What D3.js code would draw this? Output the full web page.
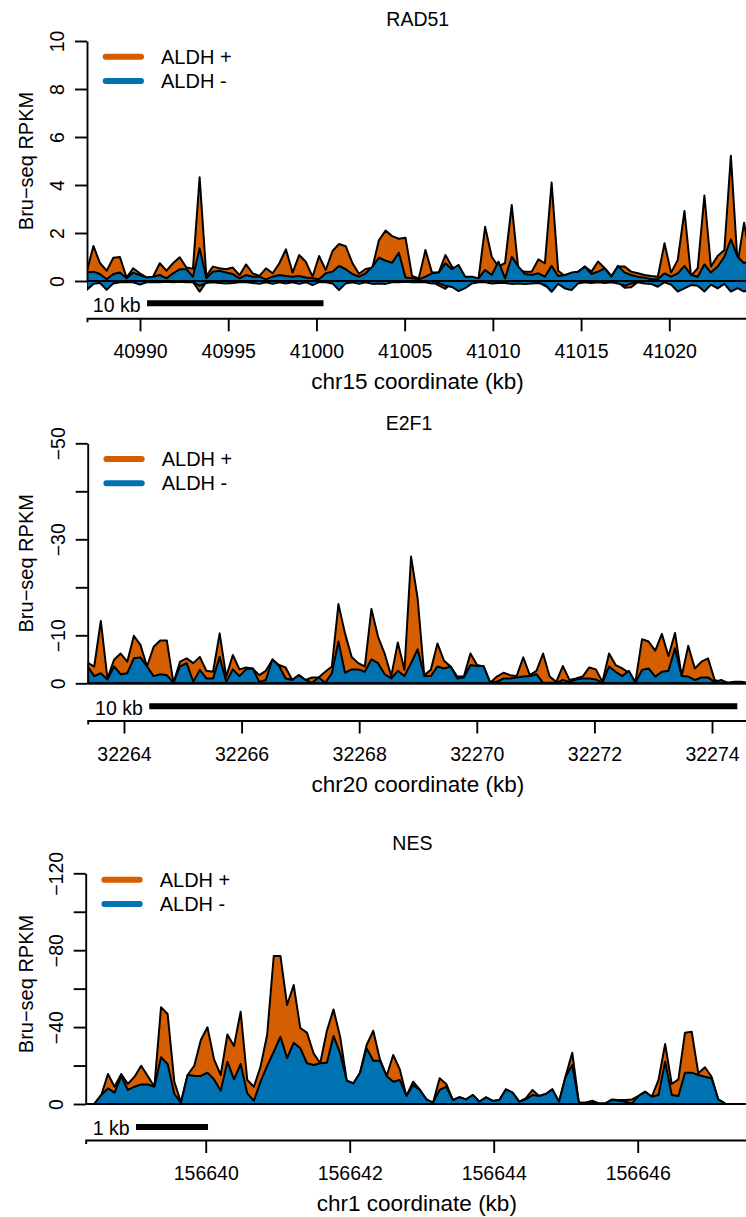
<!DOCTYPE html>
<html>
<head>
<meta charset="utf-8">
<script src="https://cdn.jsdelivr.net/npm/d3@7"></script>
<style>
  html, body { margin: 0; padding: 0; background: #fff; }
  svg { display: block; }
</style>
</head>
<body>
<svg id="chart" width="746" height="1217"></svg>
<script>
// ---------------------------------------------------------------
// Bru-seq read coverage (RPKM) for three genes, ALDH+ vs ALDH- cells
// ---------------------------------------------------------------

const legendLabels = ["ALDH +", "ALDH -"];

// ---- RAD51 (chr15, plus strand; antisense signal shown below 0) ----
const rad51Kb = [40986.98,40987.36,40987.73,40988.11,40988.49,40988.86,40989.24,40989.61,40989.99,40990.37,
  40990.74,40991.12,40991.50,40991.87,40992.25,40992.63,40993.00,40993.38,40993.76,40994.13,
  40994.51,40994.88,40995.26,40995.64,40996.01,40996.39,40996.77,40997.14,40997.52,40997.90,
  40998.27,40998.65,40999.02,40999.40,40999.78,41000.15,41000.53,41000.91,41001.28,41001.66,
  41002.04,41002.41,41002.79,41003.17,41003.54,41003.92,41004.29,41004.67,41005.05,41005.42,
  41005.80,41006.18,41006.55,41006.93,41007.31,41007.68,41008.06,41008.43,41008.81,41009.19,
  41009.56,41009.94,41010.32,41010.69,41011.07,41011.45,41011.82,41012.20,41012.58,41012.95,
  41013.33,41013.70,41014.08,41014.46,41014.83,41015.21,41015.59,41015.96,41016.34,41016.72,
  41017.09,41017.47,41017.84,41018.22,41018.60,41018.97,41019.35,41019.73,41020.10,41020.48,
  41020.86,41021.23,41021.61,41021.99,41022.36,41022.74,41023.12,41023.49,41023.87,41024.24,
  41024.62];
const rad51AldhPos = [0.39,1.46,0.75,0.43,0.97,1.00,0.14,0.53,0.32,0.15,
  0.18,0.74,0.43,0.74,0.99,0.56,0.51,4.32,0.21,0.60,
  0.53,0.49,0.56,0.24,0.69,0.32,0.21,0.53,0.32,0.74,
  1.32,0.35,1.08,0.80,0.18,1.04,0.46,1.25,1.54,1.45,
  0.75,0.30,0.50,0.55,1.70,2.10,1.87,1.76,1.80,0.21,
  0.11,1.29,0.35,0.35,1.08,0.60,0.39,0.11,0.15,0.11,
  2.26,1.00,0.60,0.75,3.17,0.45,0.39,0.39,0.90,0.74,
  4.10,0.43,0.21,0.32,0.35,0.60,0.39,0.81,0.53,0.21,
  0.60,0.60,0.39,0.32,0.25,0.21,0.18,1.57,0.35,0.88,
  2.92,0.21,0.53,3.56,0.60,1.04,1.29,5.22,0.74,2.43,
  0.80];
const rad51AldhNeg = [0.35,0.39,0.29,0.07,0.29,0.35,0.11,0.35,0.24,0.15,
  0.18,0.25,0.11,0.32,0.49,0.49,0.18,1.36,0.11,0.39,
  0.43,0.35,0.29,0.11,0.25,0.18,0.18,0.07,0.18,0.25,
  0.21,0.18,0.21,0.15,0.11,0.07,0.32,0.39,0.63,0.49,
  0.29,0.18,0.32,0.60,0.97,0.85,0.76,1.18,0.15,0.11,
  0.07,0.18,0.32,0.35,0.74,0.49,0.67,0.18,0.18,0.11,
  0.46,0.25,0.81,0.11,1.01,0.60,0.29,0.25,0.32,0.18,
  0.63,0.21,0.25,0.35,0.39,0.60,0.29,0.39,0.53,0.18,
  0.63,0.35,0.25,0.18,0.14,0.07,0.07,0.32,0.18,0.32,
  0.63,0.25,0.18,0.69,0.35,0.60,1.01,1.74,1.01,0.74,
  0.90];
const rad51AldhPosAntisense = [-0.04,-0.04,-0.04,-0.04,-0.04,-0.04,-0.04,-0.04,-0.04,-0.04,
  -0.04,-0.04,-0.04,-0.04,-0.04,-0.04,-0.04,-0.44,-0.04,-0.04,
  -0.04,-0.04,-0.04,-0.04,-0.04,-0.04,-0.04,-0.04,-0.04,-0.04,
  -0.04,-0.04,-0.04,-0.04,-0.04,-0.04,-0.04,-0.04,-0.04,-0.04,
  -0.04,-0.04,-0.04,-0.04,-0.04,-0.04,-0.04,-0.04,-0.04,-0.04,
  -0.04,-0.04,-0.04,-0.18,-0.33,-0.04,-0.04,-0.04,-0.04,-0.04,
  -0.04,-0.04,-0.04,-0.04,-0.04,-0.04,-0.04,-0.04,-0.04,-0.20,
  -0.30,-0.04,-0.04,-0.04,-0.04,-0.04,-0.04,-0.04,-0.04,-0.04,
  -0.04,-0.28,-0.26,-0.04,-0.04,-0.04,-0.04,-0.04,-0.04,-0.04,
  -0.04,-0.04,-0.04,-0.04,-0.04,-0.04,-0.04,-0.20,-0.04,-0.04,
  -0.04];
const rad51AldhNegAntisense = [-0.37,-0.12,-0.08,-0.37,-0.10,-0.05,-0.05,-0.05,-0.15,-0.05,
  -0.05,-0.05,-0.03,-0.05,-0.03,-0.05,-0.05,-0.20,-0.08,-0.05,
  -0.08,-0.10,-0.08,-0.05,-0.05,-0.08,-0.12,-0.05,-0.12,-0.05,
  -0.10,-0.05,-0.12,-0.05,-0.17,-0.05,-0.05,-0.10,-0.38,-0.10,
  -0.05,-0.12,-0.05,-0.12,-0.10,-0.12,-0.05,-0.05,-0.03,-0.05,
  -0.05,-0.05,-0.10,-0.08,-0.20,-0.25,-0.42,-0.30,-0.10,-0.05,
  -0.05,-0.10,-0.08,-0.08,-0.12,-0.10,-0.12,-0.10,-0.08,-0.15,
  -0.45,-0.12,-0.31,-0.38,-0.10,-0.05,-0.08,-0.05,-0.08,-0.05,
  -0.10,-0.20,-0.10,-0.05,-0.10,-0.12,-0.24,-0.05,-0.15,-0.44,
  -0.31,-0.17,-0.20,-0.44,-0.15,-0.31,-0.12,-0.44,-0.30,-0.44,
  -0.30];
const rad51YTicks = [0, 2, 4, 6, 8, 10];
const rad51YLabels = ["0", "2", "4", "6", "8", "10"];
const rad51XTicks = [40990, 40995, 41000, 41005, 41010, 41015, 41020];
const rad51ScaleBar = [40990.4, 10]; // start (kb), length (kb)

// ---- E2F1 (chr20, minus strand) ----
const e2f1Kb = [32263.382,32263.494,32263.606,32263.719,32263.831,32263.943,32264.056,32264.168,32264.280,32264.392,
  32264.504,32264.617,32264.729,32264.841,32264.953,32265.066,32265.178,32265.290,32265.402,32265.515,
  32265.627,32265.739,32265.851,32265.964,32266.076,32266.188,32266.300,32266.412,32266.525,32266.637,
  32266.749,32266.861,32266.974,32267.086,32267.198,32267.310,32267.423,32267.535,32267.647,32267.759,
  32267.872,32267.984,32268.096,32268.208,32268.321,32268.433,32268.545,32268.657,32268.770,32268.882,
  32268.994,32269.106,32269.218,32269.331,32269.443,32269.555,32269.667,32269.780,32269.892,32270.004,
  32270.116,32270.229,32270.341,32270.453,32270.565,32270.678,32270.790,32270.902,32271.014,32271.127,
  32271.239,32271.351,32271.463,32271.576,32271.688,32271.800,32271.912,32272.025,32272.137,32272.249,
  32272.361,32272.474,32272.586,32272.698,32272.810,32272.922,32273.035,32273.147,32273.259,32273.371,
  32273.484,32273.596,32273.708,32273.820,32273.933,32274.045,32274.157,32274.269,32274.382,32274.494,
  32274.606];
const e2f1AldhPos = [4.3,3.5,13.0,1.0,4.9,6.2,4.5,9.9,8.0,3.5,
  7.6,8.9,8.9,0.1,4.5,5.2,4.2,5.5,2.6,2.4,
  10.4,1.4,5.9,2.9,3.3,3.1,1.7,2.6,4.9,3.8,
  3.3,0.7,1.7,0.7,1.2,1.2,2.4,3.5,16.5,10.4,
  5.5,4.2,3.5,15.5,9.7,6.2,1.5,8.5,2.8,26.4,
  17.7,1.7,2.8,8.3,4.7,3.5,1.4,1.4,6.2,3.8,
  3.5,0.1,1.4,2.2,1.7,1.5,5.4,1.7,2.6,6.2,
  1.4,0.3,3.6,0.7,1.0,1.4,3.3,2.9,0.3,6.2,
  3.8,3.1,2.2,0.3,9.2,8.7,6.8,10.3,5.7,10.5,
  1.5,7.8,3.1,4.5,5.2,0.7,0.3,0.1,0.3,0.3,
  0.1];
const e2f1AldhNeg = [3.5,1.5,2.1,0.8,3.5,1.9,2.1,5.2,5.4,3.5,
  1.5,1.9,1.7,0.1,3.5,4.2,0.3,2.8,1.0,1.0,
  5.5,0.3,2.9,1.5,2.9,3.1,0.3,0.7,5.0,3.6,
  1.0,0.7,1.7,0.7,0.1,1.2,0.1,2.1,8.7,2.2,
  2.9,2.9,2.4,5.0,4.2,1.9,1.0,2.6,1.5,4.2,
  7.1,1.5,1.5,3.5,3.1,3.5,1.0,1.2,3.8,3.6,
  3.6,0.1,0.3,1.0,1.0,1.2,1.4,1.5,1.9,0.1,
  0.1,0.1,0.7,0.3,0.8,1.0,1.0,0.8,0.1,3.5,
  2.4,1.5,2.6,0.1,2.8,3.1,1.4,2.4,2.6,7.3,
  1.5,1.4,0.7,1.2,1.2,0.3,0.7,0.1,0.1,0.1,
  0.1];
const e2f1YTicks = [0, 10, 20, 30, 40, 50];
const e2f1YLabels = ["0", "\u221210", "", "\u221230", "", "\u221250"];
const e2f1XTicks = [32264, 32266, 32268, 32270, 32272, 32274];
const e2f1ScaleBar = [32264.43, 10];

// ---- NES (chr1, minus strand) ----
const nesKb = [156638.458,156638.550,156638.642,156638.734,156638.827,156638.919,156639.011,156639.103,156639.195,156639.287,
  156639.379,156639.471,156639.564,156639.656,156639.748,156639.840,156639.932,156640.024,156640.116,156640.208,
  156640.301,156640.393,156640.485,156640.577,156640.669,156640.761,156640.853,156640.945,156641.038,156641.130,
  156641.222,156641.314,156641.406,156641.498,156641.590,156641.683,156641.775,156641.867,156641.959,156642.051,
  156642.143,156642.235,156642.327,156642.420,156642.512,156642.604,156642.696,156642.788,156642.880,156642.972,
  156643.065,156643.157,156643.249,156643.341,156643.433,156643.525,156643.617,156643.709,156643.802,156643.894,
  156643.986,156644.078,156644.170,156644.262,156644.354,156644.446,156644.539,156644.631,156644.723,156644.815,
  156644.907,156644.999,156645.091,156645.183,156645.276,156645.368,156645.460,156645.552,156645.644,156645.736,
  156645.828,156645.920,156646.013,156646.105,156646.197,156646.289,156646.381,156646.473,156646.565,156646.657,
  156646.750,156646.842,156646.934,156647.026,156647.118,156647.210];
const nesAldhPos = [0.3,4.7,15.6,9.0,15.6,10.4,14.2,19.9,14.6,9.0,
  50.3,46.8,11.6,0.9,15.1,19.8,33.3,39.9,23.2,15.1,
  36.2,30.2,48.0,12.5,9.0,19.4,35.9,77.0,77.0,51.5,
  61.9,39.5,37.1,26.4,21.2,38.1,49.2,35.0,12.1,10.7,
  16.3,30.7,38.1,23.2,14.6,25.5,18.0,4.2,11.6,7.6,
  2.4,0.7,13.4,10.4,2.1,3.5,2.4,4.7,1.2,3.5,
  1.6,2.1,7.6,5.9,1.2,2.9,7.3,4.2,5.2,7.6,
  1.2,14.6,26.7,0.7,0.7,1.7,0.3,0.3,2.4,2.1,
  2.1,2.4,4.2,6.4,3.8,12.5,31.2,10.4,12.8,37.1,
  37.6,16.0,19.1,14.2,2.4,0.3];
const nesAldhNeg = [0.3,4.7,8.1,5.9,14.5,7.3,9.0,10.2,10.2,9.0,
  24.3,20.8,5.2,0.7,15.1,14.7,14.6,16.3,12.8,6.9,
  22.0,12.8,20.8,5.5,1.7,11.6,19.8,27.2,35.0,23.8,
  31.9,29.0,21.2,20.3,21.2,21.5,35.4,26.4,12.1,10.7,
  16.3,29.0,22.5,22.5,14.6,11.6,12.5,4.2,9.8,7.3,
  2.4,0.7,7.3,9.0,2.1,3.5,2.4,4.7,1.2,3.5,
  1.6,2.1,7.6,5.9,1.2,2.4,4.7,4.2,5.2,7.6,
  1.2,14.2,20.3,0.7,0.7,1.2,0.3,0.3,2.1,1.7,
  1.2,0.3,4.2,6.4,3.8,4.7,22.0,4.7,4.2,16.3,
  16.3,15.1,14.2,13.4,2.4,0.3];
const nesYTicks = [0, 20, 40, 60, 80, 100, 120];
const nesYLabels = ["0", "", "\u221240", "", "\u221280", "", "\u2212120"];
const nesXTicks = [156640, 156642, 156644, 156646];
const nesScaleBar = [156639.032, 1];

// ---------------------------------------------------------------
const FONT = '"Liberation Sans", Arial, Helvetica, sans-serif';
const COL_POS = "#D55E00";
const COL_NEG = "#0072B2";
const legendColors = [COL_POS, COL_NEG];
const LINE_W = 2;

const panels = [
  { title: "RAD51", titleX: 386.3, titleY: 26, chrom: "chr15",
    kb: rad51Kb, pos: rad51AldhPos, neg: rad51AldhNeg,
    posAs: rad51AldhPosAntisense, negAs: rad51AldhNegAntisense,
    yMax: 10, yTicks: rad51YTicks, yLabels: rad51YLabels, xTicks: rad51XTicks,
    bar: rad51ScaleBar, barLabel: "10 kb",
    xDomain: [40986.996, 41024.461], left: 87, right: 748,
    zeroY: 281, topY: 41, axisY: 318.3, barY: 303.3 },
  { title: "E2F1", titleX: 385.7, titleY: 430, chrom: "chr20",
    kb: e2f1Kb, pos: e2f1AldhPos, neg: e2f1AldhNeg,
    yMax: 50, yTicks: e2f1YTicks, yLabels: e2f1YLabels, xTicks: e2f1XTicks,
    bar: e2f1ScaleBar, barLabel: "10 kb",
    xDomain: [32263.383, 32274.612], left: 87.7, right: 748,
    zeroY: 683.3, topY: 443.3, axisY: 720.5, barY: 706.3 },
  { title: "NES", titleX: 392.3, titleY: 850, chrom: "chr1",
    kb: nesKb, pos: nesAldhPos, neg: nesAldhNeg,
    yMax: 120, yTicks: nesYTicks, yLabels: nesYLabels, xTicks: nesXTicks,
    bar: nesScaleBar, barLabel: "1 kb",
    xDomain: [156638.333, 156647.532], left: 85.7, right: 748,
    zeroY: 1104, topY: 873.3, axisY: 1140, barY: 1127 }
];

const svg = d3.select("#chart");
const defs = svg.append("defs");

panels.forEach((p, pi) => {
  const x = d3.scaleLinear().domain(p.xDomain).range([p.left, p.right]);
  const y = d3.scaleLinear().domain([0, p.yMax]).range([p.zeroY, p.topY]);
  const frameTop = p.zeroY - 240;
  const g = svg.append("g").attr("class", "panel");

  // plotting region clip
  const clipId = "plot-clip-" + pi;
  defs.append("clipPath").attr("id", clipId)
    .append("rect")
    .attr("x", p.left).attr("y", frameTop - 10)
    .attr("width", p.right - p.left).attr("height", 280);

  const plot = g.append("g").attr("clip-path", `url(#${clipId})`);
  const area = d3.area()
    .x((d, i) => x(p.kb[i]))
    .y0(y(0))
    .y1(d => y(d));

  // ALDH+ first, ALDH- drawn over it
  const layers = [];
  if (p.posAs) layers.push([p.posAs, COL_POS]);
  layers.push([p.pos, COL_POS]);
  if (p.negAs) layers.push([p.negAs, COL_NEG]);
  layers.push([p.neg, COL_NEG]);

  layers.forEach(([vals, col]) => {
    plot.append("path")
      .datum(vals)
      .attr("d", area)
      .attr("fill", col)
      .attr("stroke", "#000")
      .attr("stroke-width", LINE_W)
      .attr("stroke-linejoin", "round");
  });

  // zero line
  plot.append("line")
    .attr("x1", p.left).attr("x2", p.right)
    .attr("y1", y(0)).attr("y2", y(0))
    .attr("stroke", "#000").attr("stroke-width", 2.2);

  // y axis
  const yAxis = d3.axisLeft(y)
    .tickValues(p.yTicks)
    .tickFormat((d, i) => p.yLabels[i])
    .tickSize(12)
    .tickSizeOuter(0);
  const gy = g.append("g")
    .attr("transform", `translate(${p.left},0)`)
    .call(yAxis)
    .attr("font-family", FONT)
    .attr("font-size", 19.5);
  gy.select(".domain").attr("stroke-width", 1.9);
  gy.selectAll(".tick line").attr("stroke-width", 1.9);
  gy.selectAll(".tick text")
    .attr("x", 0).attr("dy", 0)
    .attr("text-anchor", "middle")
    .attr("fill", "#000")
    .attr("transform", "translate(-23,0) rotate(-90)");

  // y title
  const midY = frameTop + 120;
  g.append("text")
    .attr("transform", `translate(32.5,${midY}) rotate(-90)`)
    .attr("text-anchor", "middle")
    .attr("font-family", FONT)
    .attr("font-size", 20)
    .text("Bru\u2212seq RPKM");

  // x axis
  const xAxis = d3.axisBottom(x)
    .tickValues(p.xTicks)
    .tickFormat(d3.format("d"))
    .tickSize(13)
    .tickSizeOuter(4);
  const gx = g.append("g")
    .attr("transform", `translate(0,${p.axisY})`)
    .call(xAxis)
    .attr("font-family", FONT)
    .attr("font-size", 19.5);
  gx.select(".domain").attr("stroke-width", 1.9);
  gx.selectAll(".tick line").attr("stroke-width", 1.9);
  gx.selectAll(".tick text")
    .attr("y", 40).attr("dy", 0)
    .attr("fill", "#000");

  // x title
  g.append("text")
    .attr("x", (p.left + p.right) / 2)
    .attr("y", p.axisY + 71)
    .attr("text-anchor", "middle")
    .attr("font-family", FONT)
    .attr("font-size", 22.5)
    .text(p.chrom + " coordinate (kb)");

  // panel title
  g.append("text")
    .attr("x", p.titleX)
    .attr("y", p.titleY)
    .attr("font-family", FONT)
    .attr("font-size", 19.5)
    .text(p.title);

  // scale bar
  const barX0 = x(p.bar[0]);
  const barX1 = x(p.bar[0] + p.bar[1]);
  g.append("line")
    .attr("x1", barX0).attr("x2", barX1)
    .attr("y1", p.barY).attr("y2", p.barY)
    .attr("stroke", "#000").attr("stroke-width", 6);
  g.append("text")
    .attr("x", barX0 - 6.5)
    .attr("y", p.barY + 8.2)
    .attr("text-anchor", "end")
    .attr("font-family", FONT)
    .attr("font-size", 19.5)
    .text(p.barLabel);

  // legend
  const leg = g.append("g");
  legendLabels.forEach((lab, i) => {
    const ly = frameTop + 15.7 + i * 24.3;
    leg.append("line")
      .attr("x1", p.left + 18.7).attr("x2", p.left + 54)
      .attr("y1", ly).attr("y2", ly)
      .attr("stroke", legendColors[i])
      .attr("stroke-width", 6)
      .attr("stroke-linecap", "round");
    leg.append("text")
      .attr("x", p.left + 74)
      .attr("y", ly + 6.8)
      .attr("font-family", FONT)
      .attr("font-size", 20)
      .text(lab);
  });
});
</script>
</body>
</html>
